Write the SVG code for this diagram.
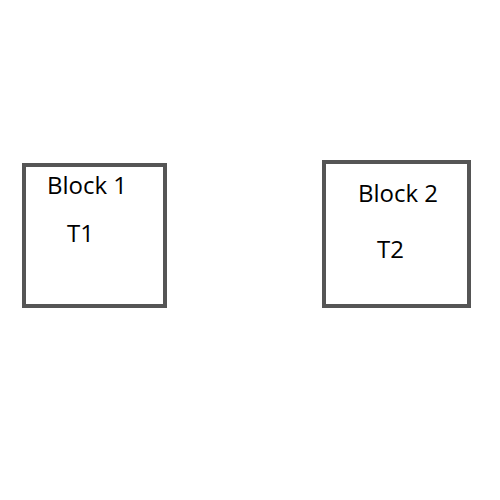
<svg xmlns="http://www.w3.org/2000/svg" width="500" height="500" viewBox="0 0 500 500">
<style>
.box{fill:#fff;stroke:#555;stroke-width:4}
.t{font-family:"Open Sans",sans-serif;font-size:24px;fill:#000}
</style>
<rect width="500" height="500" fill="#fff"/>
<g id="block1">
<rect class="box" x="24" y="165" width="141" height="141"/>
<text class="t" x="47" y="194">Block 1</text>
<text class="t" x="67" y="242">T1</text>
</g>
<g id="block2">
<rect class="box" x="324" y="162" width="145" height="144"/>
<text class="t" x="358" y="202">Block 2</text>
<text class="t" x="377" y="258">T2</text>
</g>
<g id="connectors"></g>
</svg>
